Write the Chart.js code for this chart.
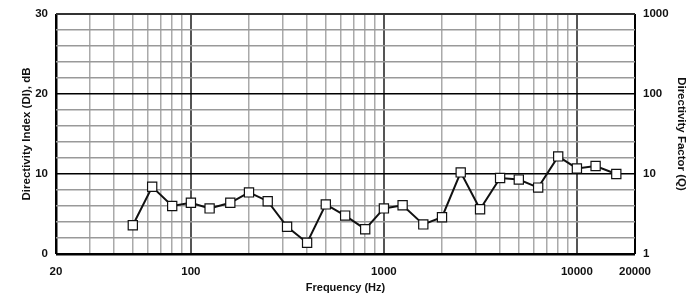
<!DOCTYPE html>
<html>
<head>
<meta charset="utf-8">
<script src="https://cdn.jsdelivr.net/npm/chart.js@4/dist/chart.umd.min.js"></script>
<style>
  html, body { margin: 0; padding: 0; background: #fff; }
  #wrap { width: 687px; height: 294px; position: relative; }
</style>
</head>
<body>
<div id="wrap"><canvas id="c" width="687" height="294"></canvas></div>
<script>
const frequencies = [50, 63, 80, 100, 125, 160, 200, 250, 315, 400, 500, 630, 800, 1000, 1250, 1600, 2000, 2500, 3150, 4000, 5000, 6300, 8000, 10000, 12500, 16000];
const diValues = [3.6, 8.4, 6.0, 6.4, 5.7, 6.4, 7.7, 6.6, 3.4, 1.4, 6.2, 4.8, 3.1, 5.7, 6.1, 3.7, 4.6, 10.2, 5.6, 9.5, 9.3, 8.3, 12.2, 10.7, 11.0, 10.0];
const xGridTicks = [20, 30, 40, 50, 60, 70, 80, 90, 100, 200, 300, 400, 500, 600, 700, 800, 900, 1000, 2000, 3000, 4000, 5000, 6000, 7000, 8000, 9000, 10000, 20000];
const xLabelTicks = [20, 100, 1000, 10000, 20000];
const xMajorTicks = [100, 1000, 10000];
const diGridTicks = [0, 2, 4, 6, 8, 10, 12, 14, 16, 18, 20, 22, 24, 26, 28, 30];
const diLabelTicks = [0, 10, 20, 30];
const qTicks = [1, 10, 100, 1000];

const FONT = "'Liberation Sans', Arial, sans-serif";

const points = frequencies.map((f, i) => ({ x: f, y: diValues[i] }));

function zeroPad(scale) {
  scale.paddingTop = 0; scale.paddingBottom = 0;
  scale.paddingLeft = 0; scale.paddingRight = 0;
}

new Chart(document.getElementById('c'), {
  type: 'line',
  data: {
    datasets: [{
      data: points,
      borderColor: '#111',
      borderWidth: 2,
      tension: 0,
      pointStyle: 'rect',
      pointRadius: 6.5,
      pointHoverRadius: 6.5,
      pointBackgroundColor: '#fff',
      pointBorderColor: '#111',
      pointBorderWidth: 1.2,
      yAxisID: 'y'
    }]
  },
  options: {
    responsive: false,
    animation: false,
    devicePixelRatio: 1,
    layout: { padding: { top: 14, left: 0, right: 0, bottom: 0 } },
    plugins: { legend: { display: false }, tooltip: { enabled: false } },
    scales: {
      x: {
        type: 'logarithmic',
        position: 'bottom',
        min: 20, max: 20000,
        afterBuildTicks: (s) => { s.ticks = xGridTicks.map(v => ({ value: v })); },
        afterFit: (s) => { s.height = 40; zeroPad(s); },
        border: { display: false },
        grid: {
          drawTicks: false,
          color: (ctx) => {
            const v = ctx.tick && ctx.tick.value;
            if (v === 20 || v === 20000) return '#000';
            return xMajorTicks.includes(v) ? '#555' : '#aaa';
          },
          lineWidth: (ctx) => {
            const v = ctx.tick && ctx.tick.value;
            if (v === 20) return 2.5;
            if (v === 20000) return 2;
            return xMajorTicks.includes(v) ? 2 : 1.5;
          }
        },
        ticks: {
          autoSkip: false,
          maxRotation: 0,
          padding: 11,
          color: '#111',
          font: { family: FONT, size: 11.5, weight: 'bold' },
          callback: (v) => xLabelTicks.includes(v) ? String(v) : ''
        },
        title: {
          display: true,
          text: 'Frequency (Hz)',
          color: '#111',
          font: { family: FONT, size: 11, weight: 'bold', lineHeight: 1 },
          padding: { top: 0, bottom: 0.5 }
        }
      },
      y: {
        type: 'linear',
        position: 'left',
        min: 0, max: 30,
        afterBuildTicks: (s) => { s.ticks = diGridTicks.map(v => ({ value: v })); },
        ticks: {
          autoSkip: false,
          padding: 8,
          color: '#111',
          font: { family: FONT, size: 11.5, weight: 'bold' },
          callback: (v) => diLabelTicks.includes(v) ? String(v) : ''
        },
        afterFit: (s) => { s.width = 56; zeroPad(s); },
        border: { display: false },
        grid: {
          drawTicks: false,
          color: (ctx) => {
            const v = ctx.tick && ctx.tick.value;
            if (v === 0) return '#000';
            if (v === 30) return '#333';
            return (v === 10 || v === 20) ? '#000' : '#999';
          },
          lineWidth: (ctx) => {
            const v = ctx.tick && ctx.tick.value;
            if (v === 0) return 2.5;
            if (v === 30) return 2;
            return 1.5;
          }
        },
        title: {
          display: true,
          text: 'Directivity Index (DI), dB',
          color: '#111',
          font: { family: FONT, size: 11.5, weight: 'bold', lineHeight: 1 },
          padding: { top: 21, bottom: 0 }
        }
      },
      y2: {
        type: 'logarithmic',
        position: 'right',
        min: 1, max: 1000,
        afterBuildTicks: (s) => { s.ticks = qTicks.map(v => ({ value: v })); },
        afterFit: (s) => { s.width = 52; zeroPad(s); },
        border: { display: false },
        grid: { display: false, drawTicks: false },
        ticks: {
          padding: 8,
          color: '#111',
          font: { family: FONT, size: 11.5, weight: 'bold' },
          callback: (v) => String(v)
        },
        title: {
          display: true,
          text: 'Directivity Factor (Q)',
          color: '#111',
          font: { family: FONT, size: 11.5, weight: 'bold', lineHeight: 1 },
          padding: { top: 0, bottom: 0 }
        }
      }
    }
  }
});
</script>
</body>
</html>
